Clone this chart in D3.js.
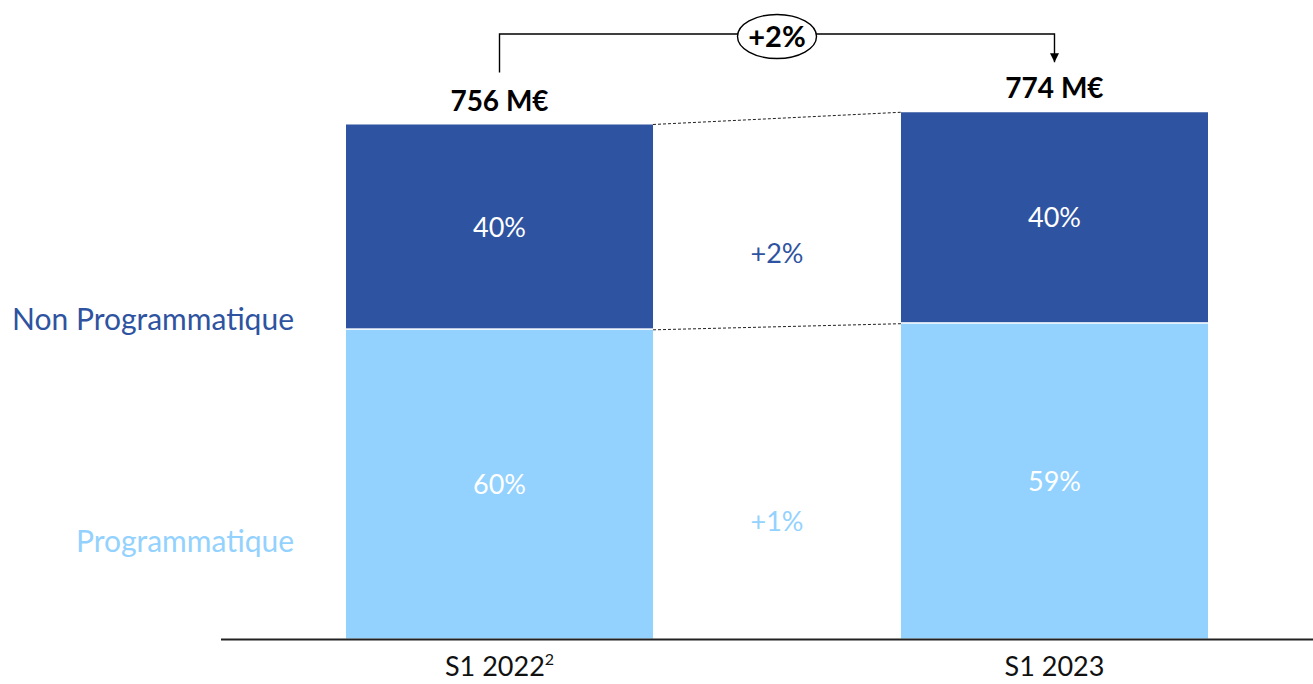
<!DOCTYPE html>
<html>
<head>
<meta charset="utf-8">
<script src="https://cdn.jsdelivr.net/npm/d3@7"></script>
<style>
  html, body { margin: 0; padding: 0; background: #fff; }
  svg { display: block; font-family: Lato, "Open Sans", sans-serif; }
</style>
</head>
<body>
<svg id="chart" width="1313" height="684"></svg>
<script>
// Half-year advertising revenue, split by buying mode (M€)
const periods = ["S1 2022", "S1 2023"];
const periodSup = ["2", ""];
const programmatique = [454, 463];
const nonProgrammatique = [302, 311];
const totals = [756, 774];
const totalLabels = ["756 M€", "774 M€"];
const shareProg = ["60%", "59%"];
const shareNonProg = ["40%", "40%"];
const growthTotal = "+2%";
const growthNonProg = "+2%";
const growthProg = "+1%";
const seriesNames = ["Non Programmatique", "Programmatique"];

const darkBlue = "#2e53a0";
const lightBlue = "#93d2fe";

const svg = d3.select("#chart");

const x = d3.scaleBand().domain(periods).range([346, 1208]).paddingInner(0.4468).paddingOuter(0);
const y = d3.scaleLinear().domain([0, 756]).range([638.5, 124.5]);

const rows = periods.map((p, i) => ({
  p, i,
  prog: programmatique[i],
  non: nonProgrammatique[i],
  total: totals[i]
}));

// stacked bars
const g = svg.append("g");
g.selectAll("rect.prog").data(rows).join("rect")
  .attr("x", d => x(d.p)).attr("width", x.bandwidth())
  .attr("y", d => y(d.prog)).attr("height", d => y(0) - y(d.prog))
  .attr("fill", lightBlue);
g.selectAll("rect.non").data(rows).join("rect")
  .attr("x", d => x(d.p)).attr("width", x.bandwidth())
  .attr("y", d => y(d.prog + d.non)).attr("height", d => y(d.prog) - y(d.prog + d.non) - 1.5)
  .attr("fill", darkBlue);

// connector dashes between bars
const xr = x(periods[0]) + x.bandwidth(), xl = x(periods[1]);
[d => d.prog + d.non, d => d.prog].forEach(f => {
  svg.append("line")
    .attr("x1", xr).attr("y1", y(f(rows[0])))
    .attr("x2", xl).attr("y2", y(f(rows[1])))
    .attr("stroke", "#222").attr("stroke-width", 1)
    .attr("stroke-dasharray", "3,2");
});

// share labels inside segments
const cx = d => x(d.p) + x.bandwidth() / 2;
g.selectAll("text.non").data(rows).join("text")
  .attr("x", cx).attr("y", d => (y(d.prog) + y(d.prog + d.non)) / 2)
  .attr("dy", "0.35em").attr("text-anchor", "middle")
  .attr("fill", "#fff").attr("font-size", 27)
  .text(d => shareNonProg[d.i]);
g.selectAll("text.prog").data(rows).join("text")
  .attr("x", cx).attr("y", d => (y(0) + y(d.prog)) / 2)
  .attr("dy", "0.35em").attr("text-anchor", "middle")
  .attr("fill", "#fff").attr("font-size", 27)
  .text(d => shareProg[d.i]);

// totals above bars
g.selectAll("text.total").data(rows).join("text")
  .attr("x", cx).attr("y", d => y(d.total) - 14)
  .attr("text-anchor", "middle")
  .attr("font-weight", "bold").attr("font-size", 28).attr("fill", "#000")
  .text(d => totalLabels[d.i]);

// growth labels between bars
const midX = (xr + xl) / 2;
svg.append("text").attr("x", midX).attr("y", 254)
  .attr("dy", "0.35em").attr("text-anchor", "middle")
  .attr("font-size", 27).attr("fill", darkBlue).text(growthNonProg);
svg.append("text").attr("x", midX).attr("y", 522)
  .attr("dy", "0.35em").attr("text-anchor", "middle")
  .attr("font-size", 27).attr("fill", lightBlue).text(growthProg);

// series names on the left
svg.append("text").attr("x", 294).attr("y", 319).attr("dy", "0.35em")
  .attr("text-anchor", "end").attr("font-size", 30).attr("fill", darkBlue)
  .text(seriesNames[0]);
svg.append("text").attr("x", 294).attr("y", 541).attr("dy", "0.35em")
  .attr("text-anchor", "end").attr("font-size", 30).attr("fill", lightBlue)
  .text(seriesNames[1]);

// baseline and category labels
svg.append("line").attr("x1", 221).attr("x2", 1313)
  .attr("y1", y(0) + 1).attr("y2", y(0) + 1)
  .attr("stroke", "#222").attr("stroke-width", 2);
const axis = svg.append("g").attr("transform", `translate(0,${y(0) + 1})`)
  .call(d3.axisBottom(x).tickSize(0).tickFormat(""));
axis.select(".domain").remove();
const cat = svg.selectAll("text.cat").data(rows).join("text")
  .attr("x", cx).attr("y", 676)
  .attr("text-anchor", "middle").attr("font-size", 27).attr("fill", "#111");
cat.append("tspan").text(d => d.p);
cat.append("tspan").attr("dy", -11).attr("font-size", 16).text(d => periodSup[d.i]);

// total growth bracket with arrow
const bx0 = cx(rows[0]), bx1 = cx(rows[1]);
const by = 34;
svg.append("defs").append("marker")
  .attr("id", "arrow").attr("viewBox", "0 0 10 10")
  .attr("refX", 10).attr("refY", 5)
  .attr("markerWidth", 9).attr("markerHeight", 14)
  .attr("markerUnits", "userSpaceOnUse").attr("orient", "auto")
  .append("path").attr("d", "M0,0L10,5L0,10Z").attr("fill", "#000");
svg.append("path")
  .attr("d", `M${bx0},${y(rows[0].total) - 52}V${by}H${bx1}V${y(rows[1].total) - 50}`)
  .attr("fill", "none").attr("stroke", "#000").attr("stroke-width", 1.4)
  .attr("marker-end", "url(#arrow)");
const ex = (bx0 + bx1) / 2;
svg.append("ellipse").attr("cx", ex).attr("cy", 36.5).attr("rx", 39.5).attr("ry", 22)
  .attr("fill", "#fff").attr("stroke", "#000").attr("stroke-width", 1.4);
svg.append("text").attr("x", ex).attr("y", 36.5).attr("dy", "0.35em")
  .attr("text-anchor", "middle").attr("font-weight", "bold").attr("font-size", 29)
  .text(growthTotal);
</script>
</body>
</html>
